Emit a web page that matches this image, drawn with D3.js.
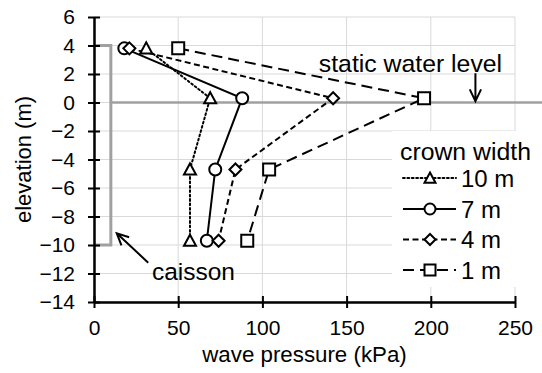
<!DOCTYPE html>
<html>
<head>
<meta charset="utf-8">
<script src="https://cdn.jsdelivr.net/npm/d3@7"></script>
<style>
  html, body { margin: 0; padding: 0; background: #fff; }
  svg { display: block; font-family: "Liberation Sans", Arial, sans-serif; }
</style>
</head>
<body>
<svg id="chart" width="542" height="373"></svg>
<script>
// Wave pressure distribution along the caisson face for several crown widths
const elevations = [3.8, 0.3, -4.7, -9.7];           // m
const crownWidths = ["10 m", "7 m", "4 m", "1 m"];
const pressure10 = [31, 69, 57, 57];                  // kPa
const pressure7  = [18, 88, 72, 67];
const pressure4  = [21, 142, 84, 74];
const pressure1  = [50, 196, 104, 91];
const xTicks = [0, 50, 100, 150, 200, 250];
const yTicks = [-14, -12, -10, -8, -6, -4, -2, 0, 2, 4, 6];
const caissonTop = 4, caissonBottom = -10, caissonWidth = 10;
const waterLevel = 0;

const seriesStyle = [
  { values: pressure10, marker: "triangle", dash: "1.8,2.6", cap: "round" },
  { values: pressure7,  marker: "circle",   dash: null,      cap: "butt" },
  { values: pressure4,  marker: "diamond",  dash: "6,3.5",   cap: "butt" },
  { values: pressure1,  marker: "square",   dash: "11,6",    cap: "butt" }
];

const svg = d3.select("#chart");
const x = d3.scaleLinear().domain([0, 250]).range([94, 515]);
const y = d3.scaleLinear().domain([-14, 6]).range([302, 17]);

// marker paths centred on (0,0)
function markerPath(type, s) {
  const h = s / 2;
  if (type === "circle") return d3.symbol().type(d3.symbolCircle).size(Math.PI * h * h)();
  if (type === "square") return `M${-h},${-h}H${h}V${h}H${-h}Z`;
  if (type === "diamond") return `M0,${-h}L${h},0L0,${h}L${-h},0Z`;
  // triangle
  const t = h;
  return `M0,${-t}L${t},${t * 0.85}L${-t},${t * 0.85}Z`;
}

// gridlines
const grid = svg.append("g");
grid.selectAll("line.h").data(yTicks).join("line")
  .attr("x1", x(0)).attr("x2", x(250))
  .attr("y1", d => y(d)).attr("y2", d => y(d))
  .attr("stroke", "#d9d9d9").attr("stroke-width", 1);
grid.selectAll("line.v").data(xTicks).join("line")
  .attr("class", "v")
  .attr("x1", d => x(d)).attr("x2", d => x(d))
  .attr("y1", y(6)).attr("y2", y(-14))
  .attr("stroke", "#d9d9d9").attr("stroke-width", 1);

// legend background
const legendX = 392, legendY = 131;
svg.append("rect").attr("x", legendX).attr("y", legendY)
  .attr("width", 130).attr("height", 156).attr("fill", "#fff");

// static water level and caisson outline
svg.append("line")
  .attr("x1", x(caissonWidth)).attr("x2", 542)
  .attr("y1", y(waterLevel)).attr("y2", y(waterLevel))
  .attr("stroke", "#a0a0a0").attr("stroke-width", 2.5);
svg.append("path")
  .attr("d", d3.line()([[x(0), y(caissonTop)], [x(caissonWidth), y(caissonTop)],
                        [x(caissonWidth), y(caissonBottom)], [x(0), y(caissonBottom)]]))
  .attr("fill", "none").attr("stroke", "#a0a0a0").attr("stroke-width", 3);

// series lines
const line = d3.line().x(d => x(d[0])).y(d => y(d[1]));
seriesStyle.forEach(s => {
  const pts = s.values.map((v, i) => [v, elevations[i]]);
  svg.append("path").datum(pts).attr("d", line)
    .attr("fill", "none").attr("stroke", "#000").attr("stroke-width", 2)
    .attr("stroke-dasharray", s.dash).attr("stroke-linecap", s.cap);
});
// series markers
seriesStyle.forEach(s => {
  svg.append("g").selectAll("path").data(s.values.map((v, i) => [v, elevations[i]])).join("path")
    .attr("transform", d => `translate(${x(d[0])},${y(d[1])})`)
    .attr("d", markerPath(s.marker, 12))
    .attr("fill", "#fff").attr("stroke", "#000").attr("stroke-width", 2);
});

// axes
const xAxis = svg.append("g").attr("transform", `translate(0,${y(-14)})`)
  .call(d3.axisBottom(x).tickValues(xTicks).tickSize(6).tickSizeOuter(0).tickPadding(12));
xAxis.selectAll(".tick line").attr("y1", -6).attr("y2", 6);
const yAxis = svg.append("g").attr("transform", `translate(${x(0)},0)`)
  .call(d3.axisLeft(y).tickValues(yTicks).tickSize(6).tickSizeOuter(0).tickPadding(13));
yAxis.selectAll(".tick line").attr("x1", 6).attr("x2", -6);
[xAxis, yAxis].forEach(a => {
  a.select(".domain").attr("stroke", "#000").attr("stroke-width", 2.5);
  a.selectAll(".tick line").attr("stroke", "#000").attr("stroke-width", 2);
  a.selectAll(".tick text").attr("font-size", 21).attr("fill", "#000")
    .attr("font-family", "Liberation Sans, Arial, sans-serif");
});
xAxis.selectAll(".tick text").attr("dy", "0.71em").attr("y", 18);

// axis titles
svg.append("text").attr("x", (x(0) + x(250)) / 2).attr("y", 362)
  .attr("text-anchor", "middle").attr("font-size", 22.3).text("wave pressure (kPa)");
svg.append("text").attr("transform", `translate(31,${(y(6) + y(-14)) / 2}) rotate(-90)`)
  .attr("text-anchor", "middle").attr("font-size", 22).text("elevation (m)");

// annotations
function arrow(x1, y1, x2, y2) {
  const a = Math.atan2(y2 - y1, x2 - x1), L = 13, w = Math.PI / 7;
  const p = d3.path();
  p.moveTo(x1, y1); p.lineTo(x2, y2);
  p.moveTo(x2 - L * Math.cos(a - w), y2 - L * Math.sin(a - w));
  p.lineTo(x2, y2);
  p.lineTo(x2 - L * Math.cos(a + w), y2 - L * Math.sin(a + w));
  svg.append("path").attr("d", p.toString()).attr("fill", "none")
    .attr("stroke", "#000").attr("stroke-width", 2);
}
svg.append("text").attr("x", x(133.5)).attr("y", y(2.14))
  .attr("font-size", 24.8).text("static water level");
arrow(x(226.5), y(2.05), x(226.5), y(0.1));
svg.append("text").attr("x", x(34.4)).attr("y", y(-12.46))
  .attr("font-size", 24.5).text("caisson");
arrow(x(32.2), y(-11.24), x(13.5), y(-9.18));

// legend
svg.append("text").attr("x", 400).attr("y", 160).attr("font-size", 24.8).text("crown width");
const legendRowY = [178, 209, 239.5, 270];
seriesStyle.forEach((s, i) => {
  const g = svg.append("g").attr("transform", `translate(0,${legendRowY[i]})`);
  g.append("line").attr("x1", 403).attr("x2", 456).attr("y1", 0).attr("y2", 0)
    .attr("stroke", "#000").attr("stroke-width", 2)
    .attr("stroke-dasharray", s.dash).attr("stroke-linecap", s.cap);
  g.append("path").attr("transform", "translate(430,0)")
    .attr("d", markerPath(s.marker, 11))
    .attr("fill", "#fff").attr("stroke", "#000").attr("stroke-width", 2);
  g.append("text").attr("x", 461).attr("y", 0).attr("dy", "0.36em")
    .attr("font-size", 24).text(crownWidths[i]);
});
</script>
</body>
</html>
